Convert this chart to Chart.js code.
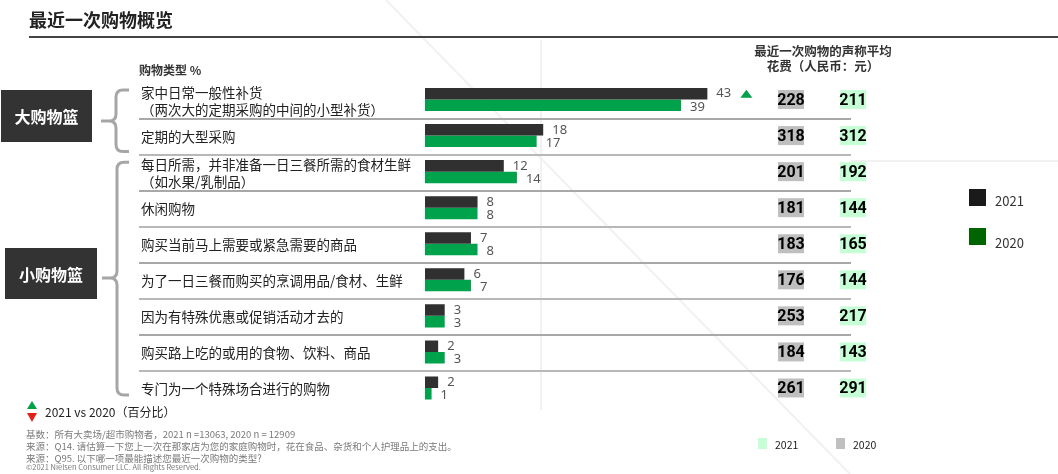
<!DOCTYPE html>
<html>
<head>
<meta charset="utf-8">
<script src="https://cdn.jsdelivr.net/npm/chart.js@4.4.1/dist/chart.umd.min.js"></script>
<style>
  body { margin: 0; background: #fff; font-family: "Noto Sans CJK SC", "Noto Sans", sans-serif; }
  #wrap { position: relative; width: 1058px; height: 474px; overflow: hidden; }
  #c { position: absolute; left: 0; top: 0; }
  .t { position: absolute; white-space: nowrap; }
  .foot { position: absolute; left: 26px; top: 428px; font-size: 9.5px; line-height: 12px; color: #7a7a7a; }
</style>
</head>
<body>
<div id="wrap">
  <canvas id="c" width="1058" height="474"></canvas>
  <div class="t" style="left:29px;top:6px;font-size:18px;font-weight:bold;color:#222">最近一次购物概览</div>
  <div style="position:absolute;left:29px;top:36px;width:1029px;height:2px;background:#444"></div>
  <div class="t" style="left:139px;top:61px;font-size:12px;font-weight:bold;color:#333">购物类型 %</div>
  <div class="t" style="left:740px;top:43px;width:166px;text-align:center;font-size:12.5px;line-height:15px;font-weight:bold;color:#333">最近一次购物的声称平均<br>花费（人民币：元）</div>

  <div class="t" style="left:995px;top:191px;font-size:13px;color:#333">2021</div>
  <div class="t" style="left:995px;top:233px;font-size:13px;color:#333">2020</div>

  <div class="t" style="left:45px;top:403px;font-size:12px;color:#222">2021 vs 2020（百分比）</div>

  <div class="foot">
    基数：所有大卖场/超市购物者，2021 n =13063, 2020 n = 12909<br>
    来源：Q14. 请估算一下您上一次在那家店为您的家庭购物时，花在食品、杂货和个人护理品上的支出。<br>
    来源：Q95. 以下哪一项最能描述您最近一次购物的类型?<br>
    <div style="font-size:7.5px;line-height:8px;margin-top:-1px">&copy;2021 Nielsen Consumer LLC. All Rights Reserved.</div>
  </div>

  <div class="t" style="left:775px;top:437px;font-size:10.5px;color:#222">2021</div>
  <div class="t" style="left:853px;top:437px;font-size:10.5px;color:#222">2020</div>
</div>

<script>
// shopping trip types, % of shoppers
const categories = [
  ['家中日常一般性补货', '（两次大的定期采购的中间的小型补货）'],
  ['定期的大型采购'],
  ['每日所需，并非准备一日三餐所需的食材生鲜', '（如水果/乳制品）'],
  ['休闲购物'],
  ['购买当前马上需要或紧急需要的商品'],
  ['为了一日三餐而购买的烹调用品/食材、生鲜'],
  ['因为有特殊优惠或促销活动才去的'],
  ['购买路上吃的或用的食物、饮料、商品'],
  ['专门为一个特殊场合进行的购物']
];
const share2021 = [43, 18, 12, 8, 7, 6, 3, 2, 2];
const share2020 = [39, 17, 14, 8, 8, 7, 3, 3, 1];
// average claimed spend (RMB)
const spendA = [228, 318, 201, 181, 183, 176, 253, 184, 261];
const spendB = [211, 312, 192, 144, 165, 144, 217, 143, 291];
// significant change 2021 vs 2020
const change = ['up', null, null, null, null, null, null, null, null];
const groupNames = ['大购物篮', '小购物篮'];
const groupRows = [[0, 1], [2, 8]];

const DARK = '#303030';
const GREEN = '#00a24c';

function brace(ctx, x, y0, y1, ym, tipX, endX) {
  const r = 7;
  ctx.beginPath();
  ctx.moveTo(endX, y0);
  ctx.lineTo(x + r, y0);
  ctx.quadraticCurveTo(x, y0, x, y0 + r);
  ctx.lineTo(x, ym - r);
  ctx.quadraticCurveTo(x, ym, x - r, ym);
  ctx.lineTo(tipX, ym);
  ctx.moveTo(x - r, ym);
  ctx.quadraticCurveTo(x, ym, x, ym + r);
  ctx.lineTo(x, y1 - r);
  ctx.quadraticCurveTo(x, y1, x + r, y1);
  ctx.lineTo(endX, y1);
  ctx.stroke();
}

const decor = {
  id: 'decor',
  beforeDraw(chart) {
    const ctx = chart.ctx;
    const y = chart.scales.y;
    ctx.save();
    // faint watermark lines
    ctx.strokeStyle = '#f1f1f1';
    ctx.lineWidth = 2;
    ctx.beginPath();
    ctx.moveTo(386, 0); ctx.lineTo(850, 474);
    ctx.moveTo(541, 40); ctx.lineTo(541, 410);
    ctx.moveTo(851, 161); ctx.lineTo(1058, 161);
    ctx.stroke();

    // row separators
    ctx.lineWidth = 2;
    for (let i = 0; i < categories.length - 1; i++) {
      const yy = Math.round((y.getPixelForValue(i) + y.getPixelForValue(i + 1)) / 2) + 1;
      ctx.strokeStyle = i % 2 ? '#b8b8b8' : '#a8a8a8';
      ctx.beginPath();
      ctx.moveTo(139, yy); ctx.lineTo(851, yy);
      ctx.stroke();
    }

    // category labels
    ctx.fillStyle = '#222';
    ctx.font = '13.5px "Noto Sans CJK SC"';
    ctx.textBaseline = 'middle';
    ctx.textAlign = 'left';
    categories.forEach((lines, i) => {
      const cy = y.getPixelForValue(i);
      if (lines.length === 1) {
        ctx.fillText(lines[0], 141, cy + 1);
      } else {
        ctx.fillText(lines[0], 141, cy - 6.5);
        ctx.fillText(lines[1], 141, cy + 10.5);
      }
    });

    // group braces and boxes
    ctx.strokeStyle = '#a6a6a6';
    ctx.lineWidth = 3;
    const boxes = [[1, 90, 91, 52, 116, 101], [5, 248, 92, 51, 117, 102]];
    groupRows.forEach((rows, g) => {
      const top = y.getPixelForValue(rows[0]) - 9.5;
      const bot = y.getPixelForValue(rows[1]) + (g === 0 ? 16 : 7);
      const mid = g === 0 ? 121 : 278;
      const b = boxes[g];
      brace(ctx, b[4], top, bot, mid, b[5], 129);
      ctx.fillStyle = '#333';
      ctx.fillRect(b[0], b[1], b[2], b[3]);
      ctx.fillStyle = '#fff';
      ctx.font = 'bold 16px "Noto Sans CJK SC"';
      ctx.textAlign = 'center';
      ctx.fillText(groupNames[g], b[0] + b[2] / 2, b[1] + b[3] / 2 + 1);
      ctx.textAlign = 'left';
    });

    // spend boxes
    ctx.font = 'bold 16px Roboto';
    ctx.textAlign = 'center';
    categories.forEach((_, i) => {
      const cy = y.getPixelForValue(i);
      ctx.fillStyle = '#bfbfbf';
      ctx.fillRect(778, cy - 9.5, 26, 19);
      ctx.fillStyle = '#c6ffd6';
      ctx.fillRect(840, cy - 9.5, 26, 19);
      ctx.fillStyle = '#000';
      ctx.fillText(spendA[i], 791, cy + 1);
      ctx.fillText(spendB[i], 853, cy + 1);
    });

    // legend squares
    ctx.fillStyle = '#1a1a1a';
    ctx.fillRect(969, 189, 17, 17);
    ctx.fillStyle = '#006400';
    ctx.fillRect(969, 228, 17, 17);
    ctx.fillStyle = '#c6ffd6';
    ctx.fillRect(758, 438, 9, 11);
    ctx.fillStyle = '#c0c0c0';
    ctx.fillRect(836, 438, 9, 11);

    // change key triangles
    ctx.fillStyle = '#00a14b';
    ctx.beginPath();
    ctx.moveTo(32, 401); ctx.lineTo(37, 409); ctx.lineTo(27, 409); ctx.closePath(); ctx.fill();
    ctx.fillStyle = '#e0201b';
    ctx.beginPath();
    ctx.moveTo(27, 413); ctx.lineTo(37, 413); ctx.lineTo(32, 422); ctx.closePath(); ctx.fill();
    ctx.restore();
  },
  afterDatasetsDraw(chart) {
    const ctx = chart.ctx;
    ctx.save();
    ctx.font = '13px "Noto Sans"';
    ctx.fillStyle = '#555';
    ctx.textBaseline = 'middle';
    ctx.textAlign = 'left';
    chart.data.datasets.forEach((ds, d) => {
      chart.getDatasetMeta(d).data.forEach((bar, i) => {
        ctx.fillText(ds.data[i], bar.x + 9, bar.y + (d === 0 ? 0 : 2));
        if (d === 0 && change[i]) {
          ctx.fillStyle = '#00a14b';
          ctx.beginPath();
          const tx = bar.x + 39, ty = bar.y;
          if (change[i] === 'up') {
            ctx.moveTo(tx, ty - 4); ctx.lineTo(tx + 6, ty + 4); ctx.lineTo(tx - 6, ty + 4);
          } else {
            ctx.moveTo(tx - 6, ty - 4); ctx.lineTo(tx + 6, ty - 4); ctx.lineTo(tx, ty + 4);
          }
          ctx.closePath();
          ctx.fill();
          ctx.fillStyle = '#555';
        }
      });
    });
    ctx.restore();
  }
};

new Chart(document.getElementById('c').getContext('2d'), {
  type: 'bar',
  data: {
    labels: categories.map(c => c.join(' ')),
    datasets: [
      { label: '2021', data: share2021, backgroundColor: DARK, categoryPercentage: 0.64, barPercentage: 1 },
      { label: '2020', data: share2020, backgroundColor: GREEN, categoryPercentage: 0.64, barPercentage: 1 }
    ]
  },
  options: {
    indexAxis: 'y',
    responsive: false,
    animation: false,
    layout: { padding: { left: 425, right: 239, top: 81.5, bottom: 68 } },
    plugins: { legend: { display: false }, tooltip: { enabled: false } },
    scales: {
      x: { display: false, min: 0, max: 60 },
      y: { display: false }
    }
  },
  plugins: [decor]
});
</script>
</body>
</html>
